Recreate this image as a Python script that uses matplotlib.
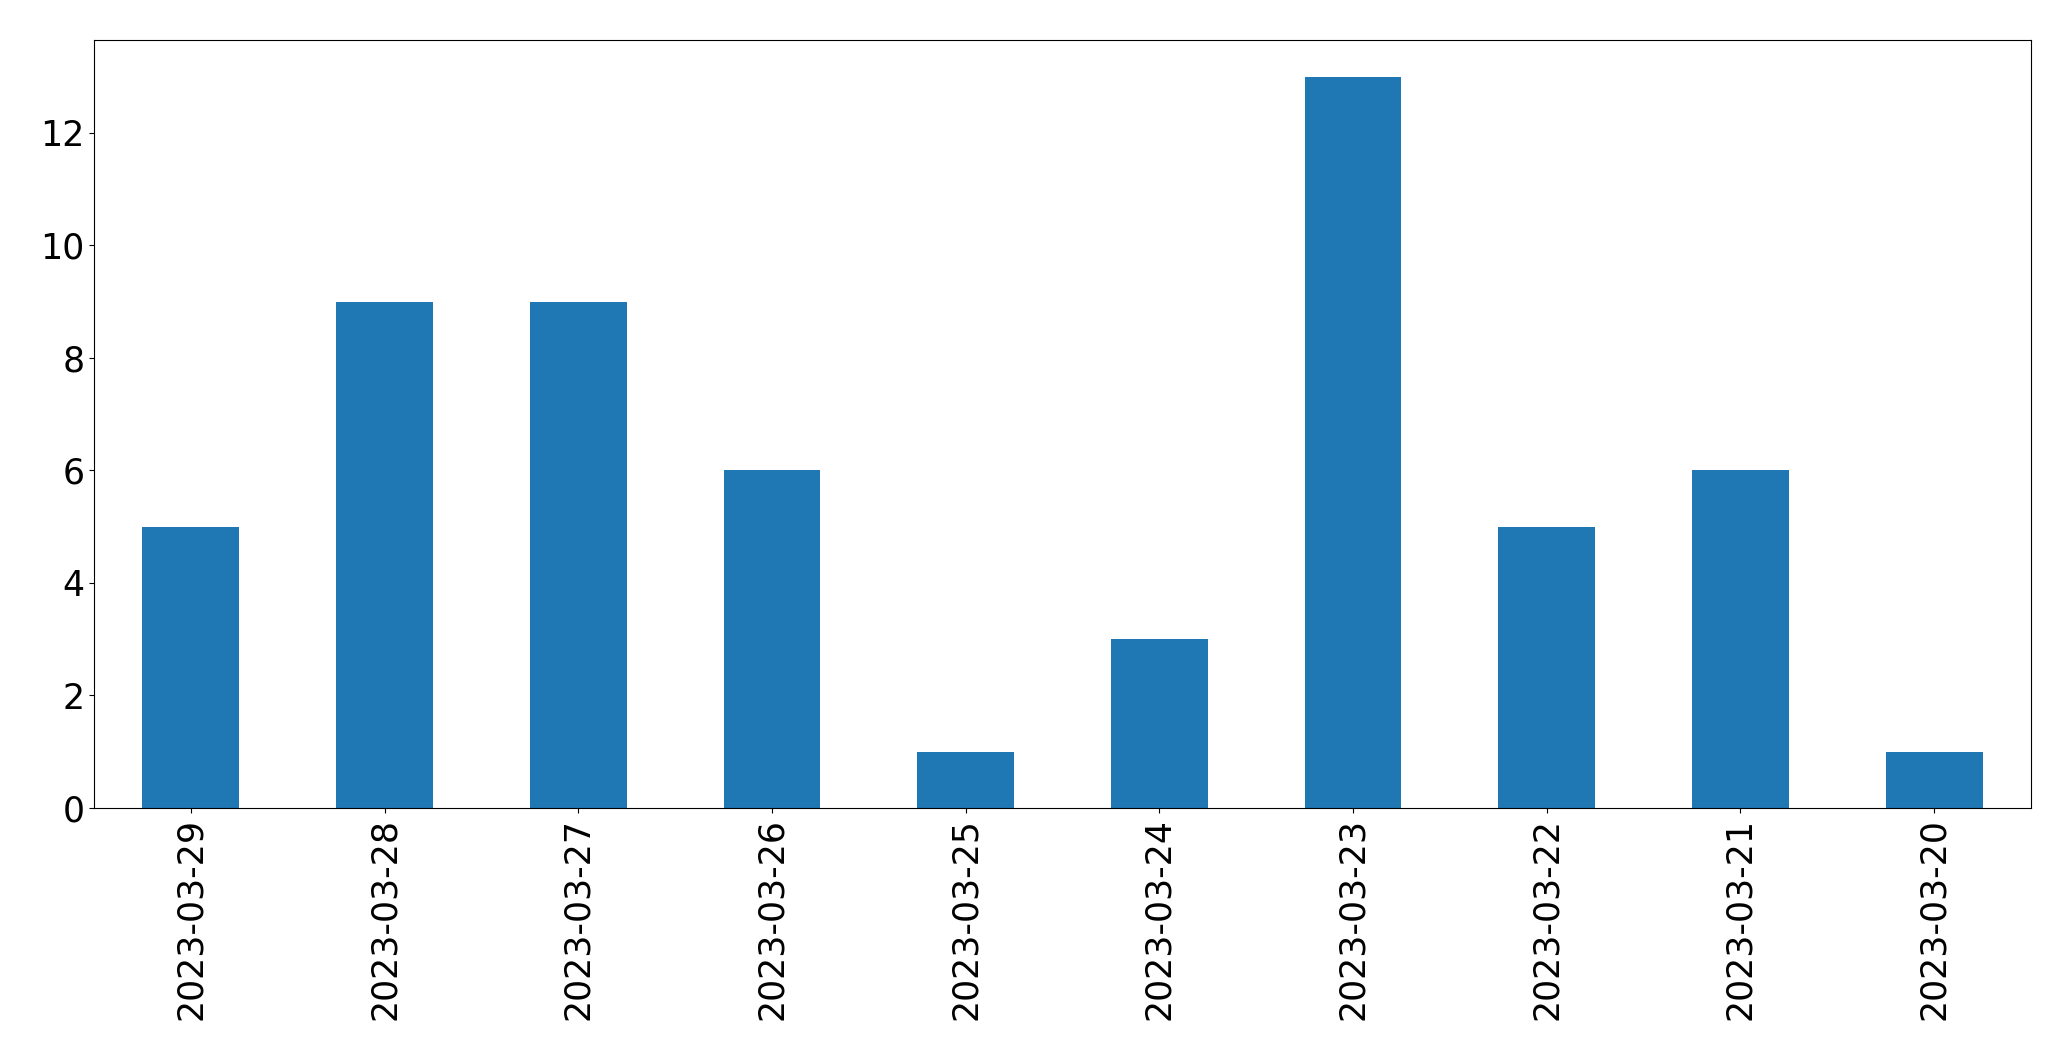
import matplotlib
matplotlib.use("Agg")
import matplotlib.pyplot as plt
import pandas as pd

# daily counts, newest first (as in the reference)
dates = ["2023-03-29", "2023-03-28", "2023-03-27", "2023-03-26", "2023-03-25",
         "2023-03-24", "2023-03-23", "2023-03-22", "2023-03-21", "2023-03-20"]
counts = [5, 9, 9, 6, 1, 3, 13, 5, 6, 1]

series = pd.Series(counts, index=dates)

fig = plt.figure(figsize=(20.71, 10.61), dpi=100)
ax = fig.add_axes([94 / 2071, 1 - 808 / 1061, (2031 - 94) / 2071, (808 - 40) / 1061])
series.plot(kind="bar", ax=ax, color="#1f77b4", fontsize=25)

fig.savefig("out.png", dpi=100)
